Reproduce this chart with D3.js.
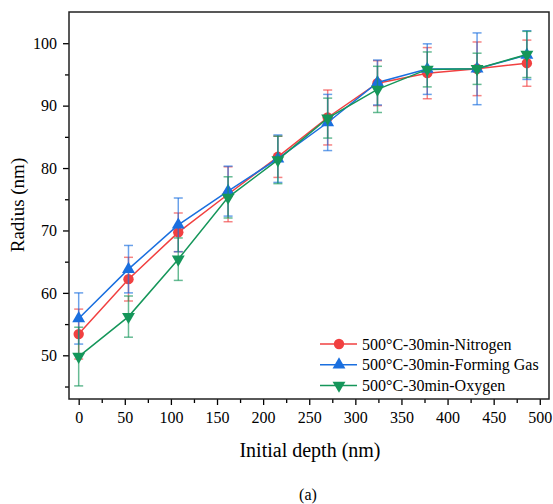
<!DOCTYPE html>
<html>
<head>
<meta charset="utf-8">
<script src="https://cdn.jsdelivr.net/npm/d3@7"></script>
<style>
  body { margin: 0; background: #fff; }
  svg text { font-family: "Liberation Serif", "Times New Roman", serif !important; fill: #000; }
</style>
</head>
<body>
<div id="chart-area"></div>
<script>
// data
const depth = [0, 54, 108, 162, 216, 270, 324, 378, 432, 486];
const nitrogen    = [53.4, 62.2, 69.7, 75.8, 81.8, 88.1, 93.6, 95.2, 95.9, 96.8];
const nitrogenErr = [4.0, 3.5, 3.1, 4.4, 3.3, 4.4, 3.6, 4.1, 4.3, 3.7];
const forming     = [55.9, 63.8, 70.9, 76.3, 81.5, 87.3, 93.7, 95.85, 95.9, 98.1];
const formingErr  = [4.1, 3.8, 4.3, 4.0, 3.8, 4.5, 3.6, 4.05, 5.75, 3.9];
const oxygen      = [49.8, 56.2, 65.4, 75.3, 81.3, 88.0, 92.6, 95.8, 95.9, 98.2];
const oxygenErr   = [4.7, 3.3, 3.4, 3.3, 3.8, 3.2, 3.7, 2.8, 2.5, 3.7];

const seriesNames = ["500°C-30min-Nitrogen", "500°C-30min-Forming Gas", "500°C-30min-Oxygen"];
const xTicks = [0, 50, 100, 150, 200, 250, 300, 350, 400, 450, 500];
const yTicks = [50, 60, 70, 80, 90, 100];

const W = 553, H = 504;
const plot = { left: 69, right: 549, top: 12, bottom: 399 };
const serif = '"Liberation Serif", "Times New Roman", serif';

const series = [
  { name: seriesNames[0], y: nitrogen, err: nitrogenErr, color: "#F14040", symbol: d3.symbolCircle, size: 85, rot: 0 },
  { name: seriesNames[1], y: forming,  err: formingErr,  color: "#1A6FDF", symbol: d3.symbolTriangle, size: 72, rot: 0 },
  { name: seriesNames[2], y: oxygen,   err: oxygenErr,   color: "#15965A", symbol: d3.symbolTriangle, size: 72, rot: 180 }
];

const svg = d3.select("#chart-area").append("svg")
    .attr("width", W)
    .attr("height", H);

const x = d3.scaleLinear().domain([-10.5, 510]).range([plot.left, plot.right]);
const y = d3.scaleLinear().domain([43, 105]).range([plot.bottom, plot.top]);

// minor ticks
svg.append("g")
    .attr("transform", "translate(0," + plot.bottom + ")")
    .call(d3.axisBottom(x).tickValues(d3.range(25, 500, 50)).tickSize(4).tickFormat(""))
    .call(g => g.select(".domain").remove())
    .selectAll("line").attr("stroke", "#000").attr("stroke-width", 1.3);

svg.append("g")
    .attr("transform", "translate(" + plot.left + ",0)")
    .call(d3.axisLeft(y).tickValues(d3.range(45, 105, 10)).tickSize(4).tickFormat(""))
    .call(g => g.select(".domain").remove())
    .selectAll("line").attr("stroke", "#000").attr("stroke-width", 1.3);

// major ticks
const xAxis = svg.append("g")
    .attr("transform", "translate(0," + plot.bottom + ")")
    .call(d3.axisBottom(x).tickValues(xTicks).tickSize(6).tickPadding(7));
xAxis.attr("font-family", null);
xAxis.select(".domain").remove();
xAxis.selectAll("line").attr("stroke", "#000").attr("stroke-width", 1.3);
xAxis.selectAll("text").style("font-family", serif).style("font-size", "16px");

const yAxis = svg.append("g")
    .attr("transform", "translate(" + plot.left + ",0)")
    .call(d3.axisLeft(y).tickValues(yTicks).tickSize(6).tickPadding(6));
yAxis.attr("font-family", null);
yAxis.select(".domain").remove();
yAxis.selectAll("line").attr("stroke", "#000").attr("stroke-width", 1.3);
yAxis.selectAll("text").style("font-family", serif).style("font-size", "16px");

// frame
svg.append("rect")
    .attr("x", plot.left)
    .attr("y", plot.top)
    .attr("width", plot.right - plot.left)
    .attr("height", plot.bottom - plot.top)
    .attr("fill", "none")
    .attr("stroke", "#222")
    .attr("stroke-width", 1.5);

const line = d3.line()
    .x(d => x(d[0]))
    .y(d => y(d[1]));

const capW = 4.5;

series.forEach(function(s) {
  const pts = depth.map((d, i) => [d, s.y[i], s.err[i]]);
  const g = svg.append("g");

  // error bars
  const eb = g.selectAll(".eb").data(pts).enter().append("g")
      .attr("stroke", s.color)
      .attr("stroke-opacity", 0.65)
      .attr("stroke-width", 1.5);
  eb.append("line")
      .attr("x1", d => x(d[0])).attr("x2", d => x(d[0]))
      .attr("y1", d => y(d[1] - d[2])).attr("y2", d => y(d[1] + d[2]));
  eb.append("line")
      .attr("x1", d => x(d[0]) - capW).attr("x2", d => x(d[0]) + capW)
      .attr("y1", d => y(d[1] + d[2])).attr("y2", d => y(d[1] + d[2]));
  eb.append("line")
      .attr("x1", d => x(d[0]) - capW).attr("x2", d => x(d[0]) + capW)
      .attr("y1", d => y(d[1] - d[2])).attr("y2", d => y(d[1] - d[2]));

  g.append("path")
      .datum(pts)
      .attr("fill", "none")
      .attr("stroke", s.color)
      .attr("stroke-width", 1.5)
      .attr("d", line);

  const sym = d3.symbol().type(s.symbol).size(s.size);
  g.selectAll(".pt").data(pts).enter().append("path")
      .attr("d", sym)
      .attr("fill", s.color)
      .attr("transform", d => "translate(" + x(d[0]) + "," + y(d[1]) + ") rotate(" + s.rot + ")");
});

// legend
const legend = svg.append("g");
series.forEach(function(s, i) {
  const ly = 344 + i * 20.7;
  legend.append("line")
      .attr("x1", 320).attr("x2", 357)
      .attr("y1", ly).attr("y2", ly)
      .attr("stroke", s.color)
      .attr("stroke-width", 1.5);
  legend.append("path")
      .attr("d", d3.symbol().type(s.symbol).size(s.size)())
      .attr("fill", s.color)
      .attr("transform", "translate(339," + ly + ") rotate(" + s.rot + ")");
  legend.append("text")
      .attr("x", 362)
      .attr("y", ly)
      .attr("dy", "0.35em")
      .style("font-size", "16px")
      .text(s.name);
});

// axis titles
svg.append("text")
    .attr("x", 310)
    .attr("y", 457)
    .attr("text-anchor", "middle")
    .style("font-size", "20px")
    .text("Initial depth (nm)");

svg.append("text")
    .attr("transform", "translate(24,205) rotate(-90)")
    .attr("text-anchor", "middle")
    .style("font-size", "19px")
    .text("Radius (nm)");

svg.append("text")
    .attr("x", 308)
    .attr("y", 500)
    .attr("text-anchor", "middle")
    .style("font-size", "16px")
    .text("(a)");
</script>
</body>
</html>
